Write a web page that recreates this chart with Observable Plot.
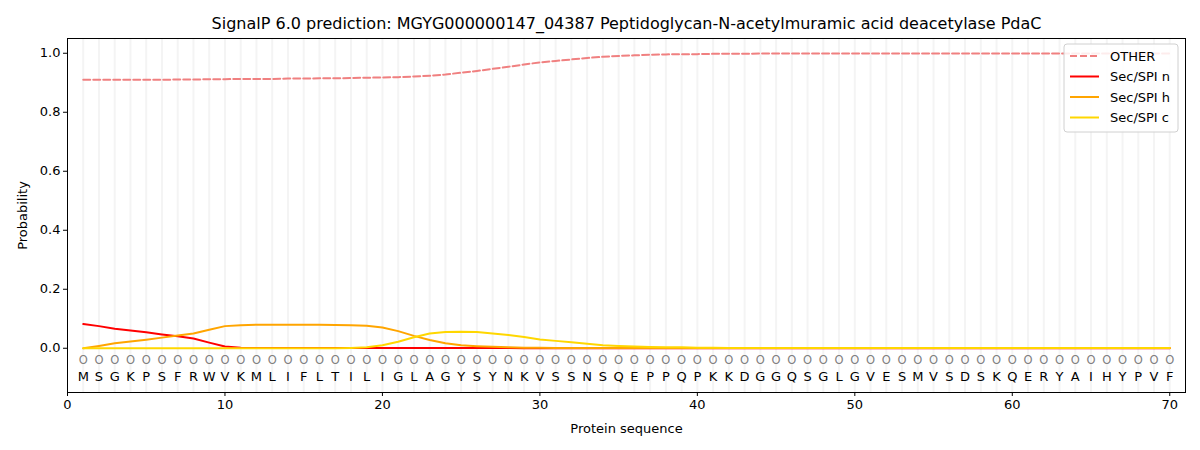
<!DOCTYPE html>
<html>
<head>
<meta charset="utf-8">
<script src="https://cdn.jsdelivr.net/npm/d3@7"></script>
<script src="https://cdn.jsdelivr.net/npm/@observablehq/plot@0.6"></script>
<style>
  body { margin: 0; background: #fff; }
  #chart svg { font-family: "DejaVu Sans", sans-serif; }
</style>
</head>
<body>
<div id="chart"></div>
<script>
const title = "SignalP 6.0 prediction: MGYG000000147_04387 Peptidoglycan-N-acetylmuramic acid deacetylase PdaC";
const residues = "MSGKPSFRWVKMLIFLTILIGLAGYSYNKVSSNSQEPPQPKKDGGQSGLGVESMVSDSKQERYAIHYPVF".split("");

const other = [0.910,0.910,0.910,0.910,0.910,0.910,0.911,0.911,0.912,0.912,
  0.913,0.913,0.913,0.914,0.914,0.915,0.915,0.916,0.917,0.918,
  0.919,0.921,0.924,0.928,0.934,0.940,0.947,0.954,0.962,0.969,
  0.974,0.979,0.984,0.988,0.991,0.993,0.995,0.996,0.997,0.997,
  0.998,0.998,0.998,0.999,0.999,0.999,0.999,0.999,0.999,0.999,
  0.999,0.999,0.999,0.999,0.999,0.999,0.999,0.999,0.999,0.999,
  0.999,0.999,0.999,0.999,0.999,0.999,0.999,0.999,0.999,0.999];
const secN = [0.082,0.075,0.066,0.060,0.054,0.047,0.041,0.033,0.019,0.006,
  0.002,0.001,0.001,0.001,0.001,0.001,0.001,0.001,0.001,0.001,
  0.001,0.001,0.001,0.001,0.001,0.001,0.001,0.001,0.000,0.000,
  0,0,0,0,0,0,0,0,0,0, 0,0,0,0,0,0,0,0,0,0, 0,0,0,0,0,0,0,0,0,0, 0,0,0,0,0,0,0,0,0,0];
const secH = [0.000,0.008,0.017,0.023,0.029,0.036,0.043,0.050,0.063,0.075,
  0.078,0.080,0.080,0.080,0.080,0.080,0.079,0.078,0.076,0.070,
  0.058,0.042,0.028,0.017,0.010,0.007,0.005,0.003,0.002,0.002,
  0.001,0.001,0.001,0.001,0.001,0.001,0.001,0.001,0.001,0.001,
  0.001,0.001,0.001,0.001,0.001,0.001,0.001,0.001,0.001,0.001,
  0.001,0.001,0.001,0.001,0.001,0.001,0.001,0.001,0.001,0.001,
  0.001,0.001,0.001,0.001,0.001,0.001,0.001,0.001,0.001,0.001];
const secC = [0.000,0.000,0.000,0.000,0.000,0.000,0.000,0.000,0.000,0.000,
  0.000,0.000,0.000,0.000,0.000,0.000,0.000,0.001,0.003,0.010,
  0.022,0.037,0.050,0.055,0.056,0.055,0.050,0.045,0.038,0.030,
  0.025,0.020,0.015,0.010,0.008,0.006,0.004,0.003,0.003,0.002,
  0.002,0.001,0.001,0.001,0.001,0.001,0.001,0.001,0.001,0.001,
  0.001,0.001,0.001,0.001,0.001,0.001,0.001,0.001,0.001,0.001,
  0.001,0.001,0.001,0.001,0.001,0.001,0.001,0.001,0.001,0.001];

const seriesNames = ["OTHER", "Sec/SPI n", "Sec/SPI h", "Sec/SPI c"];
const seriesColors = ["#f08080", "#ff0000", "#ffa500", "#ffd700"];
const seriesValues = [other, secN, secH, secC];
const xTicks = [0, 10, 20, 30, 40, 50, 60, 70];
const yTicks = [0, 0.2, 0.4, 0.6, 0.8, 1.0];

const rows = residues.map((aa, i) => ({pos: i + 1, aa}));
const lineData = seriesNames.flatMap((name, s) =>
  seriesValues[s].map((v, i) => ({pos: i + 1, value: v, series: name})));

const plot = Plot.plot({
  width: 1200,
  height: 450,
  marginLeft: 67,
  marginRight: 15,
  marginTop: 38,
  marginBottom: 58,
  style: {fontFamily: "DejaVu Sans, sans-serif", fontSize: "13px", background: "#fff"},
  x: {domain: [0, 71]},
  y: {domain: [-0.15, 1.05]},
  color: {domain: seriesNames, range: seriesColors},
  marks: [
    Plot.ruleX(rows, {x: "pos", stroke: "#f4f4f4", strokeWidth: 2}),
    Plot.text(rows, {x: "pos", y: -0.04, text: () => "O", fill: "#808080", fontSize: 11.5}),
    Plot.text(rows, {x: "pos", y: -0.097, text: "aa", fill: "#000", fontSize: 13}),
    Plot.line(lineData.filter(d => d.series === "OTHER"), {x: "pos", y: "value", stroke: "#f08080", strokeWidth: 2, strokeDasharray: "7,3"}),
    Plot.line(lineData.filter(d => d.series !== "OTHER"), {x: "pos", y: "value", z: "series", stroke: "series", strokeWidth: 2}),
    Plot.frame({stroke: "#000", strokeWidth: 1}),
    Plot.axisX({ticks: xTicks, tickSize: 4, tickPadding: 3, fontSize: 13, label: "Protein sequence", labelAnchor: "center", labelArrow: "none", labelOffset: 40}),
    Plot.axisY({ticks: yTicks, tickSize: 4, tickPadding: 3, tickFormat: d3.format(".1f"), fontSize: 13, label: "Probability", labelAnchor: "center", labelArrow: "none", labelOffset: 50}),
    Plot.text([title], {frameAnchor: "top", dy: -21, text: d => d, fontSize: 16, fill: "#000"})
  ]
});

document.getElementById("chart").appendChild(plot);

// legend box (upper right)
const svg = d3.select(plot);
const lg = svg.append("g").attr("transform", "translate(1064,44)");
lg.append("rect").attr("width", 114).attr("height", 88).attr("rx", 3)
  .attr("fill", "#fff").attr("fill-opacity", 0.85).attr("stroke", "#d0d0d0");
seriesNames.forEach((name, i) => {
  const y = 12 + i * 20.5;
  lg.append("line").attr("x1", 6).attr("x2", 35).attr("y1", y).attr("y2", y)
    .attr("stroke", seriesColors[i]).attr("stroke-width", 2)
    .attr("stroke-dasharray", i === 0 ? "7,3" : null);
  lg.append("text").attr("x", 46).attr("y", y).attr("dy", "0.35em")
    .attr("text-anchor", "start")
    .attr("font-size", 13).attr("fill", "#000").text(name);
});
</script>
</body>
</html>
